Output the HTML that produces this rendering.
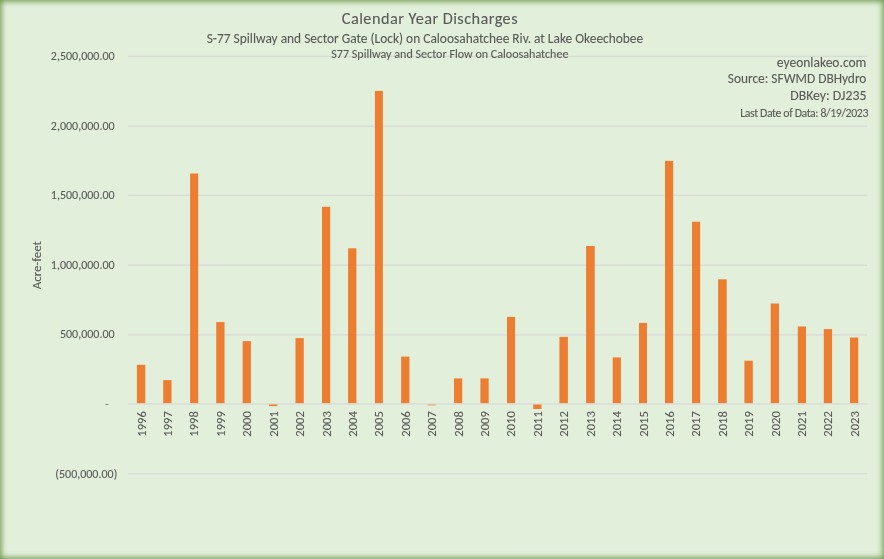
<!DOCTYPE html>
<html><head><meta charset="utf-8"><title>Calendar Year Discharges</title><style>
html,body{margin:0;padding:0;}
body{width:884px;height:559px;overflow:hidden;position:relative;background:#E2EFDA;}
svg{position:absolute;left:0;top:0;will-change:transform;}
svg text{font-family:"Carlito","Liberation Sans",sans-serif;fill:#595959;stroke:#595959;stroke-width:0.1px;}
.e{position:absolute;pointer-events:none;}
#el{left:0;top:0;width:10px;height:559px;background:linear-gradient(to right,rgba(100,145,65,0.56) 0.5px,rgba(100,145,65,0.45) 1.5px,rgba(100,145,65,0.34) 2.5px,rgba(100,145,65,0.22) 3.5px,rgba(100,145,65,0.13) 4.5px,rgba(100,145,65,0.07) 5.5px,rgba(100,145,65,0.03) 6.5px,rgba(100,145,65,0.01) 7.5px,rgba(100,145,65,0.0) 8.5px);}
#er{right:0;top:0;width:10px;height:559px;background:linear-gradient(to left,rgba(100,145,65,0.56) 0.5px,rgba(100,145,65,0.45) 1.5px,rgba(100,145,65,0.34) 2.5px,rgba(100,145,65,0.22) 3.5px,rgba(100,145,65,0.13) 4.5px,rgba(100,145,65,0.07) 5.5px,rgba(100,145,65,0.03) 6.5px,rgba(100,145,65,0.01) 7.5px,rgba(100,145,65,0.0) 8.5px);}
#et{left:0;top:0;width:884px;height:10px;background:linear-gradient(to bottom,rgba(100,145,65,0.56) 0.5px,rgba(100,145,65,0.45) 1.5px,rgba(100,145,65,0.34) 2.5px,rgba(100,145,65,0.22) 3.5px,rgba(100,145,65,0.13) 4.5px,rgba(100,145,65,0.07) 5.5px,rgba(100,145,65,0.03) 6.5px,rgba(100,145,65,0.01) 7.5px,rgba(100,145,65,0.0) 8.5px);}
#eb{left:0;bottom:0;width:884px;height:10px;background:linear-gradient(to top,rgba(100,145,65,0.56) 0.5px,rgba(100,145,65,0.45) 1.5px,rgba(100,145,65,0.34) 2.5px,rgba(100,145,65,0.22) 3.5px,rgba(100,145,65,0.13) 4.5px,rgba(100,145,65,0.07) 5.5px,rgba(100,145,65,0.03) 6.5px,rgba(100,145,65,0.01) 7.5px,rgba(100,145,65,0.0) 8.5px);}
</style></head><body>
<svg width="884" height="559" viewBox="0 0 884 559">
<g fill="#D9D9D9"><rect x="128.1" y="55.78" width="739.1" height="1.3"/><rect x="128.1" y="125.51" width="739.1" height="1.3"/><rect x="128.1" y="194.69" width="739.1" height="1.3"/><rect x="128.1" y="264.51" width="739.1" height="1.3"/><rect x="128.1" y="334.24" width="739.1" height="1.3"/><rect x="128.1" y="403.36" width="739.1" height="1.3"/><rect x="128.1" y="473.05" width="739.1" height="1.3"/></g>
<g fill="#ED7D31"><rect x="136.90" y="364.80" width="8.40" height="38.35"/><rect x="163.20" y="380.10" width="8.30" height="23.05"/><rect x="190.10" y="173.50" width="8.10" height="229.65"/><rect x="216.24" y="322.10" width="8.27" height="81.05"/><rect x="242.65" y="341.10" width="8.27" height="62.05"/><rect x="269.07" y="404.50" width="8.27" height="1.60"/><rect x="295.49" y="338.10" width="8.27" height="65.05"/><rect x="322.00" y="206.80" width="8.20" height="196.35"/><rect x="348.10" y="248.30" width="8.30" height="154.85"/><rect x="374.95" y="90.90" width="7.95" height="312.25"/><rect x="401.15" y="356.60" width="8.27" height="46.55"/><rect x="427.57" y="404.60" width="8.27" height="0.70"/><rect x="453.98" y="378.40" width="8.27" height="24.75"/><rect x="480.40" y="378.40" width="8.27" height="24.75"/><rect x="507.00" y="316.90" width="8.10" height="86.25"/><rect x="533.23" y="404.50" width="8.27" height="4.50"/><rect x="559.40" y="336.90" width="8.50" height="66.25"/><rect x="586.10" y="246.00" width="8.60" height="157.15"/><rect x="612.70" y="357.40" width="8.20" height="45.75"/><rect x="639.00" y="322.90" width="8.00" height="80.25"/><rect x="665.00" y="160.90" width="8.20" height="242.25"/><rect x="692.00" y="221.70" width="8.20" height="181.45"/><rect x="718.10" y="279.30" width="8.60" height="123.85"/><rect x="744.40" y="360.70" width="8.40" height="42.45"/><rect x="770.70" y="303.50" width="8.30" height="99.65"/><rect x="797.80" y="326.50" width="8.20" height="76.65"/><rect x="823.80" y="329.10" width="8.30" height="74.05"/><rect x="850.00" y="337.50" width="8.25" height="65.65"/></g>
<text x="429.9" y="24.0" text-anchor="middle" font-size="16.3" letter-spacing="0.45" textLength="176.22" lengthAdjust="spacingAndGlyphs">Calendar Year Discharges</text>
<text x="425.0" y="43.1" text-anchor="middle" font-size="13.4" textLength="436.42" lengthAdjust="spacingAndGlyphs">S-77 Spillway and Sector Gate (Lock) on Caloosahatchee Riv. at Lake Okeechobee</text>
<text x="449.9" y="58.4" text-anchor="middle" font-size="12.08" textLength="237.20" lengthAdjust="spacingAndGlyphs">S77 Spillway and Sector Flow on Caloosahatchee</text>
<g text-anchor="end">
<text x="866.4" y="66.9" font-size="13.5" textLength="89.53" lengthAdjust="spacingAndGlyphs">eyeonlakeo.com</text>
<text x="866.4" y="82.8" font-size="13.37" textLength="138.59" lengthAdjust="spacingAndGlyphs">Source: SFWMD DBHydro</text>
<text x="866.4" y="99.6" font-size="13.75" textLength="76.20" lengthAdjust="spacingAndGlyphs">DBKey: DJ235</text>
<text x="868.0" y="116.6" font-size="11.8" letter-spacing="-0.38" textLength="127.78" lengthAdjust="spacingAndGlyphs">Last Date of Data: 8/19/2023</text>
</g>
<g text-anchor="end" font-size="12"><text x="114.6" y="59.8" textLength="63.77" lengthAdjust="spacingAndGlyphs">2,500,000.00</text><text x="114.6" y="129.6" textLength="63.77" lengthAdjust="spacingAndGlyphs">2,000,000.00</text><text x="114.6" y="198.7" textLength="63.77" lengthAdjust="spacingAndGlyphs">1,500,000.00</text><text x="114.6" y="268.6" textLength="63.77" lengthAdjust="spacingAndGlyphs">1,000,000.00</text><text x="114.6" y="338.3" textLength="54.69" lengthAdjust="spacingAndGlyphs">500,000.00</text><text x="108.8" y="408.1" fill-opacity="0.75" textLength="3.69" lengthAdjust="spacingAndGlyphs">-</text><text x="117.3" y="477.9" textLength="61.97" lengthAdjust="spacingAndGlyphs">(500,000.00)</text></g>
<text transform="translate(40.7,265.2) rotate(-90)" text-anchor="middle" font-size="12.9" textLength="48.17" lengthAdjust="spacingAndGlyphs">Acre-feet</text>
<g text-anchor="end" font-size="12.6" style="stroke-width:0.25px"><text transform="translate(145.62,411.1) rotate(-90)" textLength="25.55" lengthAdjust="spacingAndGlyphs">1996</text><text transform="translate(172.04,411.1) rotate(-90)" textLength="25.55" lengthAdjust="spacingAndGlyphs">1997</text><text transform="translate(198.46,411.1) rotate(-90)" textLength="25.55" lengthAdjust="spacingAndGlyphs">1998</text><text transform="translate(224.87,411.1) rotate(-90)" textLength="25.55" lengthAdjust="spacingAndGlyphs">1999</text><text transform="translate(251.29,411.1) rotate(-90)" textLength="25.55" lengthAdjust="spacingAndGlyphs">2000</text><text transform="translate(277.70,411.1) rotate(-90)" textLength="25.55" lengthAdjust="spacingAndGlyphs">2001</text><text transform="translate(304.12,411.1) rotate(-90)" textLength="25.55" lengthAdjust="spacingAndGlyphs">2002</text><text transform="translate(330.54,411.1) rotate(-90)" textLength="25.55" lengthAdjust="spacingAndGlyphs">2003</text><text transform="translate(356.95,411.1) rotate(-90)" textLength="25.55" lengthAdjust="spacingAndGlyphs">2004</text><text transform="translate(383.37,411.1) rotate(-90)" textLength="25.55" lengthAdjust="spacingAndGlyphs">2005</text><text transform="translate(409.78,411.1) rotate(-90)" textLength="25.55" lengthAdjust="spacingAndGlyphs">2006</text><text transform="translate(436.20,411.1) rotate(-90)" textLength="25.55" lengthAdjust="spacingAndGlyphs">2007</text><text transform="translate(462.62,411.1) rotate(-90)" textLength="25.55" lengthAdjust="spacingAndGlyphs">2008</text><text transform="translate(489.03,411.1) rotate(-90)" textLength="25.55" lengthAdjust="spacingAndGlyphs">2009</text><text transform="translate(515.45,411.1) rotate(-90)" textLength="25.55" lengthAdjust="spacingAndGlyphs">2010</text><text transform="translate(541.86,411.1) rotate(-90)" textLength="25.55" lengthAdjust="spacingAndGlyphs">2011</text><text transform="translate(568.28,411.1) rotate(-90)" textLength="25.55" lengthAdjust="spacingAndGlyphs">2012</text><text transform="translate(594.70,411.1) rotate(-90)" textLength="25.55" lengthAdjust="spacingAndGlyphs">2013</text><text transform="translate(621.11,411.1) rotate(-90)" textLength="25.55" lengthAdjust="spacingAndGlyphs">2014</text><text transform="translate(647.53,411.1) rotate(-90)" textLength="25.55" lengthAdjust="spacingAndGlyphs">2015</text><text transform="translate(673.94,411.1) rotate(-90)" textLength="25.55" lengthAdjust="spacingAndGlyphs">2016</text><text transform="translate(700.36,411.1) rotate(-90)" textLength="25.55" lengthAdjust="spacingAndGlyphs">2017</text><text transform="translate(726.78,411.1) rotate(-90)" textLength="25.55" lengthAdjust="spacingAndGlyphs">2018</text><text transform="translate(753.19,411.1) rotate(-90)" textLength="25.55" lengthAdjust="spacingAndGlyphs">2019</text><text transform="translate(779.61,411.1) rotate(-90)" textLength="25.55" lengthAdjust="spacingAndGlyphs">2020</text><text transform="translate(806.02,411.1) rotate(-90)" textLength="25.55" lengthAdjust="spacingAndGlyphs">2021</text><text transform="translate(832.44,411.1) rotate(-90)" textLength="25.55" lengthAdjust="spacingAndGlyphs">2022</text><text transform="translate(858.86,411.1) rotate(-90)" textLength="25.55" lengthAdjust="spacingAndGlyphs">2023</text></g>
</svg>
<div class="e" id="el"></div><div class="e" id="er"></div><div class="e" id="et"></div><div class="e" id="eb"></div>
</body></html>
